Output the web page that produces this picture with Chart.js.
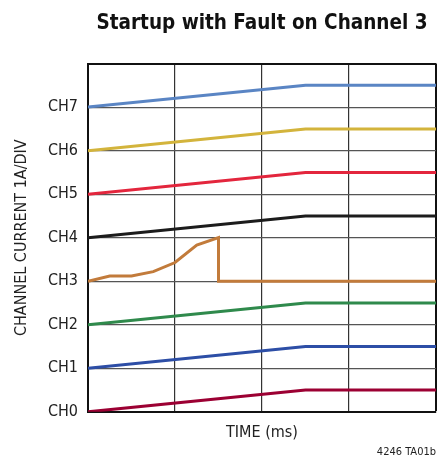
<!DOCTYPE html>
<html>
<head>
<meta charset="utf-8">
<script src="https://cdn.jsdelivr.net/npm/chart.js@4.4.1/dist/chart.umd.min.js"></script>
<style>
  html, body { margin: 0; padding: 0; background: #fff; }
  #wrap { width: 438px; height: 459px; position: relative; }
</style>
</head>
<body>
<div id="wrap"><canvas id="c"></canvas></div>
<script>
// ---- data ----
const channelLabels = ['CH0', 'CH1', 'CH2', 'CH3', 'CH4', 'CH5', 'CH6', 'CH7'];
const rampTime = [0, 2.5, 4];
const ch0 = [0, 0.5, 0.5];
const ch1 = [1, 1.5, 1.5];
const ch2 = [2, 2.5, 2.5];
const ch4 = [4, 4.5, 4.5];
const ch5 = [5, 5.5, 5.5];
const ch6 = [6, 6.5, 6.5];
const ch7 = [7, 7.5, 7.5];
const ch3Time = [0, 0.25, 0.5, 0.75, 1.0, 1.25, 1.5, 1.5, 4];
const ch3 = [3, 3.12, 3.12, 3.22, 3.43, 3.83, 4.0, 3.0, 3.0];
const colors = {
  ch0: '#9c0033', ch1: '#2d4ea6', ch2: '#2f8a4c', ch3: '#c27b3b',
  ch4: '#1c1c1c', ch5: '#e3263d', ch6: '#d3b43c', ch7: '#5a85c4'
};

const FONT = "'Liberation Sans Narrow', 'DejaVu Sans Condensed', 'Roboto Condensed', sans-serif";
const pts = (xs, ys) => xs.map((x, i) => ({ x: x, y: ys[i] }));

const mk = (name, xs, ys) => ({
  label: name.toUpperCase(),
  data: pts(xs, ys),
  borderColor: colors[name],
  borderWidth: 3,
  pointRadius: 0,
  tension: 0,
  fill: false
});

new Chart(document.getElementById('c'), {
  type: 'line',
  data: {
    datasets: [
      mk('ch7', rampTime, ch7),
      mk('ch6', rampTime, ch6),
      mk('ch5', rampTime, ch5),
      mk('ch4', rampTime, ch4),
      mk('ch3', ch3Time, ch3),
      mk('ch2', rampTime, ch2),
      mk('ch1', rampTime, ch1),
      mk('ch0', rampTime, ch0)
    ]
  },
  options: {
    responsive: true,
    maintainAspectRatio: false,
    animation: false,
    layout: { padding: { left: 0, right: 2, top: 0, bottom: 0 } },
    plugins: {
      legend: { display: false },
      tooltip: { enabled: false },
      title: {
        display: true,
        text: 'Startup with Fault on Channel 3',
        fullSize: false,
        color: '#111',
        font: { family: FONT, size: 20.5, weight: 'bold', lineHeight: 1.2 },
        padding: { top: 11, bottom: 28 }
      },
      subtitle: {
        display: true,
        position: 'bottom',
        align: 'end',
        text: '4246 TA01b',
        color: '#222',
        font: { family: FONT, size: 11, lineHeight: 1.2 },
        padding: { top: 0, bottom: 0 }
      }
    },
    scales: {
      x: {
        type: 'linear',
        min: 0,
        max: 4,
        ticks: { display: false, stepSize: 1 },
        grid: {
          drawTicks: false,
          color: (ctx) => (ctx.tick && ctx.tick.value === 4) ? '#111' : '#333',
          lineWidth: (ctx) => (ctx.tick && ctx.tick.value === 4) ? 2 : 1.2
        },
        border: { display: true, color: '#111', width: 2 },
        title: {
          display: true,
          text: 'TIME (ms)',
          color: '#222',
          font: { family: FONT, size: 16, lineHeight: 1.2 },
          padding: { top: 0, bottom: 3 }
        },
        afterFit: (s) => { s.height = 34; }
      },
      y: {
        type: 'linear',
        min: 0,
        max: 8,
        ticks: {
          stepSize: 1,
          padding: 10,
          color: '#222',
          font: { family: FONT, size: 16 },
          callback: (v) => channelLabels[v] !== undefined ? channelLabels[v] : ''
        },
        grid: {
          drawTicks: false,
          color: (ctx) => (ctx.tick && ctx.tick.value === 8) ? '#111' : '#555',
          lineWidth: (ctx) => (ctx.tick && ctx.tick.value === 8) ? 2 : 1.2
        },
        border: { display: true, color: '#111', width: 2 },
        title: {
          display: true,
          text: 'CHANNEL CURRENT 1A/DIV',
          color: '#222',
          font: { family: FONT, size: 16, lineHeight: 1.2 },
          padding: { top: 12, bottom: 0 }
        },
        afterFit: (s) => { s.width = 88; }
      }
    }
  }
});
</script>
</body>
</html>
